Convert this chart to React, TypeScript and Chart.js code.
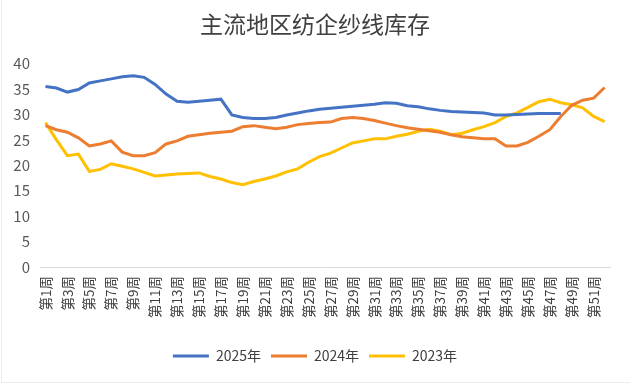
import React, { useEffect, useRef } from "react";
import { Chart, registerables } from "chart.js";

Chart.register(...registerables);

const weeks: string[] = Array.from({ length: 52 }, (_, i) => `第${i + 1}周`);

const data2025: (number | null)[] = [
  35.5, 35.2, 34.4, 34.9, 36.2, 36.6, 37.0, 37.4, 37.6, 37.3,
  35.9, 34.0, 32.6, 32.4, 32.6, 32.8, 33.0, 29.9, 29.4, 29.2,
  29.2, 29.4, 29.9, 30.3, 30.7, 31.0, 31.2, 31.4, 31.6, 31.8,
  32.0, 32.3, 32.2, 31.7, 31.5, 31.1, 30.8, 30.6, 30.5, 30.4,
  30.3, 29.9, 29.9, 30.0, 30.1, 30.2, 30.2, 30.2, null, null,
  null, null,
];

const data2024: number[] = [
  27.8, 27.0, 26.5, 25.4, 23.8, 24.2, 24.8, 22.6, 21.9, 21.9,
  22.5, 24.2, 24.8, 25.7, 26.0, 26.3, 26.5, 26.7, 27.6, 27.8,
  27.5, 27.2, 27.5, 28.0, 28.2, 28.4, 28.5, 29.2, 29.4, 29.2,
  28.8, 28.3, 27.8, 27.4, 27.1, 26.8, 26.5, 26.0, 25.6, 25.4,
  25.2, 25.2, 23.8, 23.8, 24.5, 25.7, 27.0, 29.6, 31.8, 32.8,
  33.2, 35.3,
];

const data2023: number[] = [
  28.4, 25.0, 21.9, 22.2, 18.8, 19.2, 20.3, 19.8, 19.3, 18.6,
  17.9, 18.1, 18.3, 18.4, 18.5, 17.8, 17.3, 16.6, 16.2, 16.8,
  17.3, 17.9, 18.7, 19.3, 20.6, 21.7, 22.4, 23.4, 24.4, 24.8,
  25.2, 25.2, 25.7, 26.1, 26.7, 27.1, 26.7, 26.0, 26.3, 27.0,
  27.6, 28.4, 29.6, 30.3, 31.4, 32.5, 33.0, 32.3, 31.9, 31.3,
  29.6, 28.6,
];

const seriesNames = ["2025年", "2024年", "2023年"];
const seriesColors = ["#4472C4", "#ED7D31", "#FFC000"];
const yTicks = [0, 5, 10, 15, 20, 25, 30, 35, 40];
const titleText = "主流地区纺企纱线库存";

const FONT = "'Noto Sans CJK SC', 'Noto Sans', sans-serif";

export default function App() {
  const ref = useRef<HTMLCanvasElement | null>(null);

  useEffect(() => {
    if (!ref.current) return;
    const series = [data2025, data2024, data2023];
    const chart = new Chart(ref.current, {
      type: "line",
      data: {
        labels: weeks,
        datasets: series.map((d, i) => ({
          label: seriesNames[i],
          data: d,
          borderColor: seriesColors[i],
          backgroundColor: seriesColors[i],
          borderWidth: 3,
          pointRadius: 0,
          tension: 0,
          spanGaps: false,
        })),
      },
      options: {
        animation: false,
        responsive: false,
        layout: { padding: { left: 0, right: 0, top: 0, bottom: 11 } },
        plugins: {
          title: {
            display: true,
            text: titleText,
            color: "#404040",
            font: { family: FONT, size: 23, weight: "normal" },
            padding: { top: 10, bottom: 26 },
          },
          legend: {
            position: "bottom",
            labels: {
              usePointStyle: true,
              pointStyle: "line",
              pointStyleWidth: 36,
              color: "#404040",
              font: { family: FONT, size: 14 },
              padding: 10,
            },
          },
          tooltip: { enabled: false },
        },
        scales: {
          x: {
            type: "category",
            offset: true,
            grid: { display: false, drawTicks: false },
            border: { display: true, color: "#d9d9d9", width: 1 },
            ticks: {
              autoSkip: false,
              minRotation: 90,
              maxRotation: 90,
              padding: 9,
              color: "#404040",
              font: { family: FONT, size: 13.5 },
              callback: (_v: any, i: number) => (i % 2 === 0 ? weeks[i] : ""),
            },
            afterFit: (s: any) => {
              s.height = 72;
            },
          },
          y: {
            min: 0,
            max: 40,
            grid: { display: false, drawTicks: false },
            border: { display: false },
            afterBuildTicks: (s: any) => {
              s.ticks = yTicks.map((v) => ({ value: v }));
            },
            ticks: {
              padding: 10,
              color: "#595959",
              font: { family: FONT, size: 15 },
            },
            afterFit: (s: any) => {
              s.width = 40;
            },
          },
          yRight: {
            position: "right",
            display: true,
            grid: { display: false, drawTicks: false },
            border: { display: false },
            ticks: { display: false },
            afterFit: (s: any) => {
              s.width = 18;
            },
          },
        },
      },
    });
    return () => chart.destroy();
  }, []);

  return (
    <div style={{ position: "fixed", left: 0, top: 0, width: 630, height: 384, background: "#fff" }}>
      <canvas ref={ref} width={630} height={384} style={{ display: "block" }} />
      <div
        style={{
          position: "absolute",
          left: 1,
          top: 0,
          width: 628,
          height: 382,
          borderLeft: "1px solid #ececec",
          borderBottom: "1px solid #ececec",
          pointerEvents: "none",
        }}
      />
    </div>
  );
}
